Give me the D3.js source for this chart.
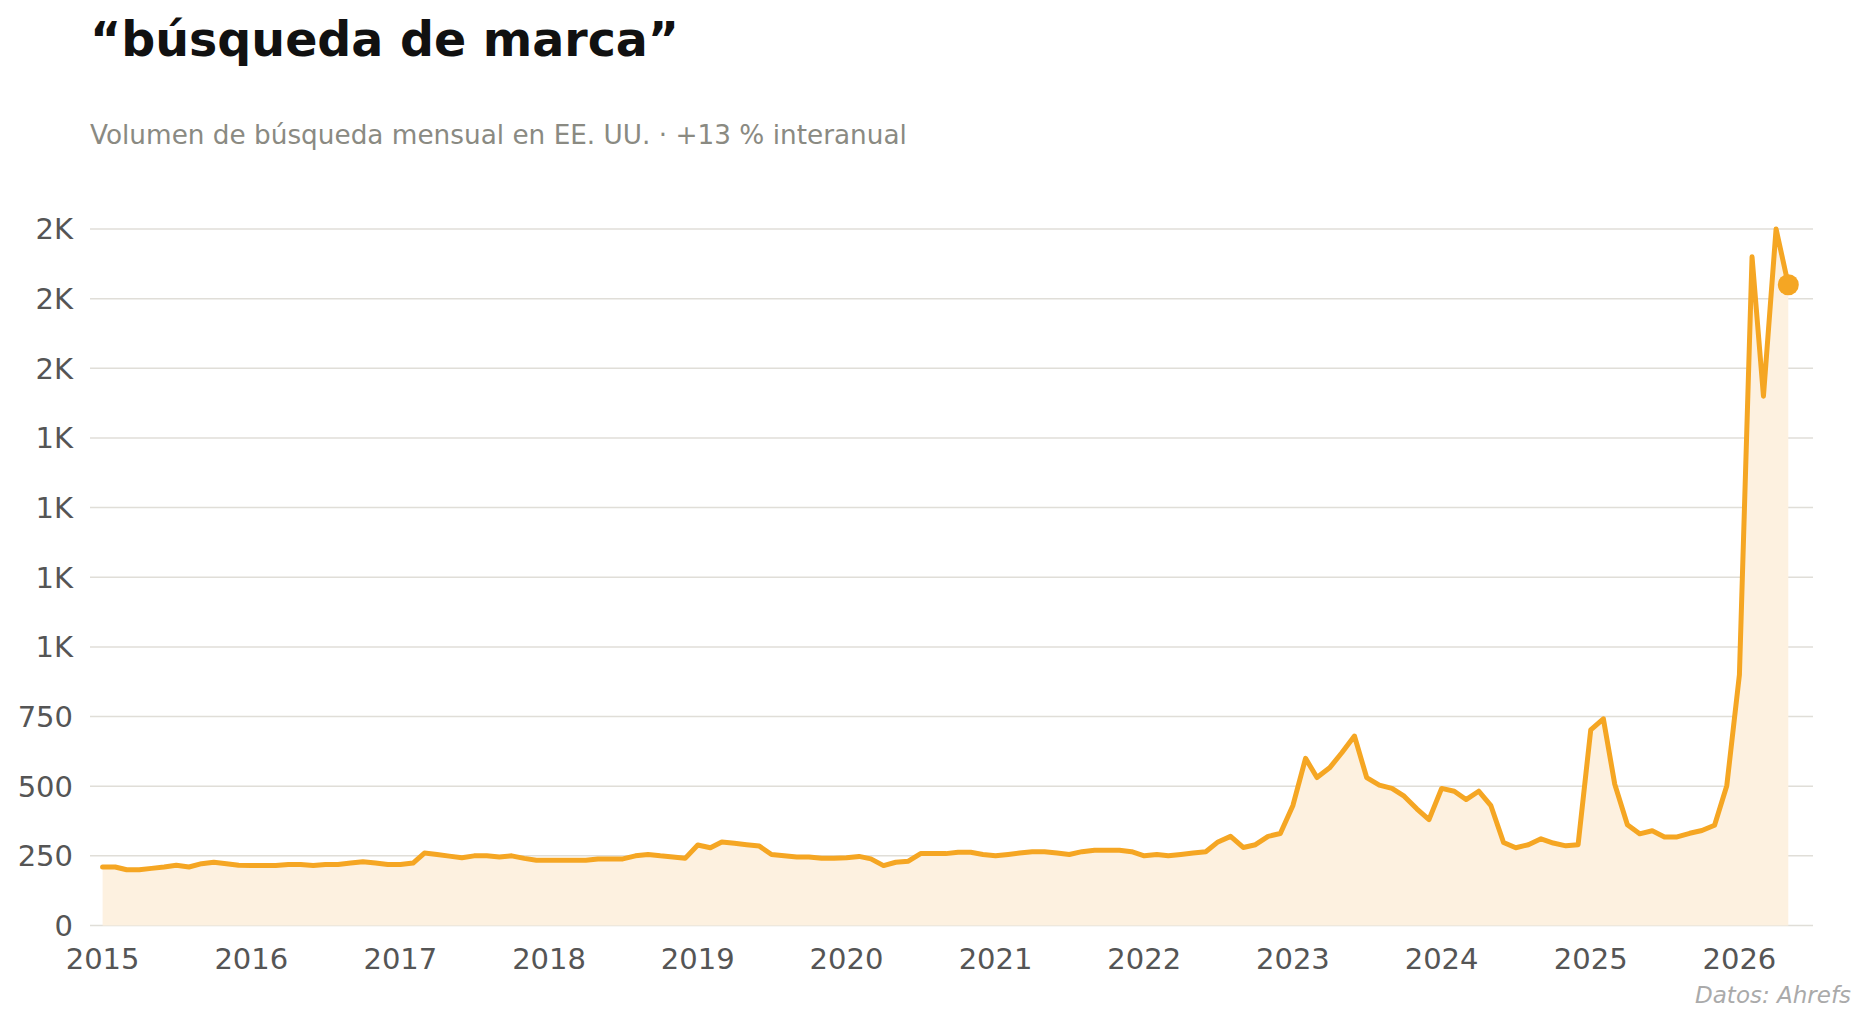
<!DOCTYPE html>
<html>
<head>
<meta charset="utf-8">
<script src="https://cdn.jsdelivr.net/npm/d3@7"></script>
<style>
  html, body { margin: 0; padding: 0; background: #ffffff; }
  svg { display: block; font-family: "DejaVu Sans", sans-serif; }
</style>
</head>
<body>
<svg id="chart" width="1870" height="1027"></svg>
<script>
// ---- Data (monthly, Jan 2015 – May 2026) ----
const startMonth = "2015-01";
const values2015 = [210, 210, 200, 200, 205, 210, 216, 210, 222, 227, 222, 216];
const values2016 = [215, 215, 215, 219, 219, 215, 219, 219, 224, 229, 224, 219];
const values2017 = [219, 224, 260, 255, 249, 243, 250, 250, 246, 250, 241, 234];
const values2018 = [234, 234, 234, 234, 239, 239, 239, 250, 255, 250, 246, 241];
const values2019 = [289, 279, 300, 295, 290, 285, 255, 250, 246, 246, 241, 241];
const values2020 = [243, 248, 239, 215, 227, 231, 258, 258, 258, 263, 263, 255];
const values2021 = [250, 255, 260, 265, 265, 260, 255, 265, 270, 270, 270, 265];
const values2022 = [250, 255, 250, 255, 260, 265, 300, 320, 280, 290, 320, 330];
const values2023 = [431, 600, 531, 566, 620, 680, 531, 504, 492, 464, 419, 380];
const values2024 = [492, 482, 452, 482, 430, 298, 279, 290, 311, 296, 286, 290];
const values2025 = [702, 742, 507, 362, 329, 340, 318, 318, 331, 341, 360, 502];
const values2026 = [900, 2400, 1900, 2500, 2300];

const yTickValues = [0, 250, 500, 750, 1000, 1250, 1500, 1750, 2000, 2250, 2500];
const xTickYears = [2015, 2016, 2017, 2018, 2019, 2020, 2021, 2022, 2023, 2024, 2025, 2026];

const titleText = "“búsqueda de marca”";
const subtitleText = "Volumen de búsqueda mensual en EE. UU. · +13 % interanual";
const sourceText = "Datos: Ahrefs";

// ---- Build series ----
const allValues = [].concat(values2015, values2016, values2017, values2018, values2019,
  values2020, values2021, values2022, values2023, values2024, values2025, values2026);
const parse = d3.timeParse("%Y-%m");
const t0 = parse(startMonth);
const series = allValues.map((v, i) => ({ date: d3.timeMonth.offset(t0, i), value: v }));

// ---- Layout ----
const svg = d3.select("#chart");
const plotLeft = 90, plotRight = 1813;
const x = d3.scaleTime()
  .domain([series[0].date, series[series.length - 1].date])
  .range([102.6, 1788.3]);
const y = d3.scaleLinear().domain([0, 2500]).range([925.5, 229]);

const lineColor = "#F5A623";
const fillColor = "#FDF1E0";

// Titles
svg.append("text").attr("x", 90).attr("y", 56)
  .attr("font-size", 47.5).attr("font-weight", "bold").attr("fill", "#111")
  .text(titleText);
svg.append("text").attr("x", 90).attr("y", 144)
  .attr("font-size", 26.3).attr("fill", "#8a8a82")
  .text(subtitleText);

// Gridlines + y labels
const yAxis = svg.append("g");
yAxis.selectAll("line").data(yTickValues).join("line")
  .attr("x1", plotLeft).attr("x2", plotRight)
  .attr("y1", d => y(d)).attr("y2", d => y(d))
  .attr("stroke", "#e0ded8").attr("stroke-width", 1.5);
const fmt = d => d >= 1000 ? Math.floor(d / 1000) + "K" : String(d);
yAxis.selectAll("text").data(yTickValues).join("text")
  .attr("x", 73).attr("y", d => y(d)).attr("dy", "0.36em")
  .attr("text-anchor", "end").attr("font-size", 29).attr("fill", "#555")
  .text(fmt);

// Area + line
const area = d3.area().x(d => x(d.date)).y0(y(0)).y1(d => y(d.value));
svg.append("path").datum(series).attr("d", area).attr("fill", fillColor);
const line = d3.line().x(d => x(d.date)).y(d => y(d.value));
svg.append("path").datum(series).attr("d", line)
  .attr("fill", "none").attr("stroke", lineColor).attr("stroke-width", 5)
  .attr("stroke-linejoin", "round").attr("stroke-linecap", "round");

// Last point dot
const last = series[series.length - 1];
svg.append("circle").attr("cx", x(last.date)).attr("cy", y(last.value))
  .attr("r", 10.5).attr("fill", lineColor);

// X axis labels
svg.append("g").selectAll("text").data(xTickYears).join("text")
  .attr("x", d => x(new Date(d, 0, 1))).attr("y", 969)
  .attr("text-anchor", "middle").attr("font-size", 29).attr("fill", "#555")
  .text(d => d);

// Source
svg.append("text").attr("x", 1851).attr("y", 1003)
  .attr("text-anchor", "end").attr("font-size", 23).attr("font-style", "italic")
  .attr("fill", "#aaa").text(sourceText);
</script>
</body>
</html>
